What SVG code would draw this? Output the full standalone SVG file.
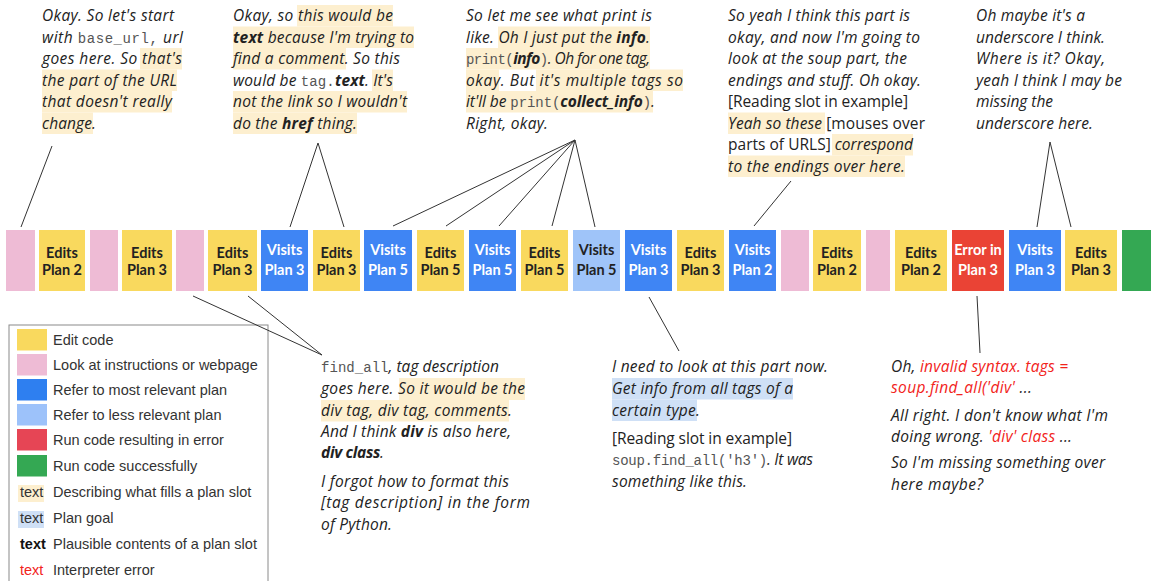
<svg xmlns="http://www.w3.org/2000/svg" width="1152" height="581" viewBox="0 0 1152 581">
<defs>
<style>
.q{font-family:"Open Sans","Noto Sans",sans-serif;font-size:15.5px;font-style:italic;fill:#222}
.q .n{font-style:normal}
.q .b{font-weight:700}
.q .m{font-family:"Liberation Mono","DejaVu Sans Mono",monospace;font-style:normal;font-size:14px;fill:#555}
.q .r{fill:#f2231b}
.hy{fill:#fdefcf}
.hb{fill:#cfe0f6}
.ed{fill:#f9d95e}
.lk{fill:#eebbd5}
.vs{fill:#3f85f4}
.vl{fill:#9fc4f9}
.er{fill:#ea4335}
.ok{fill:#34a853}
.lb{font-family:Lato,"Open Sans",sans-serif;font-weight:700;font-size:14.5px;text-anchor:middle}
.dk{fill:#222}
.wt{fill:#fff}
.cn line{stroke:#333;stroke-width:1}
.lg text{font-family:"Liberation Sans",Arial,sans-serif;font-size:14.5px;fill:#333}
</style>
</defs>
<rect width="1152" height="581" fill="#fff"/>

<!-- legend -->
<g id="legend" class="lg">
<rect x="9" y="325" width="259" height="270" fill="none" stroke="#8a8a8a"/>
<rect x="17" y="329" width="30" height="21.5" fill="#f9d95e"/>
<rect x="17" y="354" width="30" height="21.5" fill="#eebbd5"/>
<rect x="17" y="379" width="30" height="21.5" fill="#2e7ff0"/>
<rect x="17" y="404" width="30" height="21.5" fill="#9dc2fa"/>
<rect x="17" y="429" width="30" height="21.5" fill="#e64555"/>
<rect x="17" y="455" width="30" height="21.5" fill="#34a853"/>
<rect x="18" y="485" width="26" height="17" fill="#fdefcf"/>
<rect x="18" y="511" width="26" height="17" fill="#cfe0f6"/>
<text x="20" y="497">text</text>
<text x="20" y="523">text</text>
<text x="20" y="549" font-weight="700" style="fill:#111">text</text>
<text x="20" y="575" style="fill:#f2231b">text</text>
<text x="53" y="345">Edit code</text>
<text x="53" y="370">Look at instructions or webpage</text>
<text x="53" y="395">Refer to most relevant plan</text>
<text x="53" y="420">Refer to less relevant plan</text>
<text x="53" y="445">Run code resulting in error</text>
<text x="53" y="471">Run code successfully</text>
<text x="53" y="497">Describing what fills a plan slot</text>
<text x="53" y="523">Plan goal</text>
<text x="53" y="549">Plausible contents of a plan slot</text>
<text x="53" y="575">Interpreter error</text>
</g>

<!-- connectors -->
<g id="connectors" class="cn">
<line x1="52" y1="146" x2="21" y2="227"/>
<line x1="318" y1="143" x2="290" y2="227"/>
<line x1="318" y1="143" x2="344" y2="227"/>
<line x1="575" y1="140" x2="393" y2="226"/>
<line x1="575" y1="140" x2="446" y2="226"/>
<line x1="575" y1="140" x2="499" y2="226"/>
<line x1="575" y1="140" x2="552" y2="226"/>
<line x1="575" y1="140" x2="595" y2="227"/>
<line x1="791" y1="181" x2="754" y2="226"/>
<line x1="1050" y1="142" x2="1037" y2="227"/>
<line x1="1050" y1="142" x2="1071" y2="227"/>
<line x1="193" y1="296" x2="322" y2="355"/>
<line x1="248" y1="296" x2="322" y2="355"/>
<line x1="649" y1="297" x2="679" y2="351"/>
<line x1="977" y1="296" x2="980" y2="353"/>
</g>

<!-- timeline of activities -->
<g id="s1"><rect class="lk" x="6" y="230" width="29" height="61"/></g>
<g id="s2"><rect class="ed" x="39" y="230" width="46" height="61"/><text class="lb dk" x="62" y="258">Edits</text><text class="lb dk" x="62" y="275">Plan 2</text></g>
<g id="s3"><rect class="lk" x="90" y="230" width="28" height="61"/></g>
<g id="s4"><rect class="ed" x="122" y="230" width="50" height="61"/><text class="lb dk" x="147" y="258">Edits</text><text class="lb dk" x="147" y="275">Plan 3</text></g>
<g id="s5"><rect class="lk" x="176" y="230" width="28" height="61"/></g>
<g id="s6"><rect class="ed" x="208" y="230" width="49" height="61"/><text class="lb dk" x="232.5" y="258">Edits</text><text class="lb dk" x="232.5" y="275">Plan 3</text></g>
<g id="s7"><rect class="vs" x="261" y="230" width="47" height="61"/><text class="lb wt" x="284.5" y="255">Visits</text><text class="lb wt" x="284.5" y="275">Plan 3</text></g>
<g id="s8"><rect class="ed" x="313" y="230" width="47" height="61"/><text class="lb dk" x="336.5" y="258">Edits</text><text class="lb dk" x="336.5" y="275">Plan 3</text></g>
<g id="s9"><rect class="vs" x="364" y="230" width="48" height="61"/><text class="lb wt" x="388" y="255">Visits</text><text class="lb wt" x="388" y="275">Plan 5</text></g>
<g id="s10"><rect class="ed" x="417" y="230" width="47" height="61"/><text class="lb dk" x="440.5" y="258">Edits</text><text class="lb dk" x="440.5" y="275">Plan 5</text></g>
<g id="s11"><rect class="vs" x="469" y="230" width="47" height="61"/><text class="lb wt" x="492.5" y="255">Visits</text><text class="lb wt" x="492.5" y="275">Plan 5</text></g>
<g id="s12"><rect class="ed" x="521" y="230" width="47" height="61"/><text class="lb dk" x="544.5" y="258">Edits</text><text class="lb dk" x="544.5" y="275">Plan 5</text></g>
<g id="s13"><rect class="vl" x="573" y="230" width="47" height="61"/><text class="lb dk" x="596.5" y="255">Visits</text><text class="lb dk" x="596.5" y="275">Plan 5</text></g>
<g id="s14"><rect class="vs" x="625" y="230" width="47" height="61"/><text class="lb wt" x="648.5" y="255">Visits</text><text class="lb wt" x="648.5" y="275">Plan 3</text></g>
<g id="s15"><rect class="ed" x="677" y="230" width="47" height="61"/><text class="lb dk" x="700.5" y="258">Edits</text><text class="lb dk" x="700.5" y="275">Plan 3</text></g>
<g id="s16"><rect class="vs" x="729" y="230" width="47" height="61"/><text class="lb wt" x="752.5" y="255">Visits</text><text class="lb wt" x="752.5" y="275">Plan 2</text></g>
<g id="s17"><rect class="lk" x="781" y="230" width="28" height="61"/></g>
<g id="s18"><rect class="ed" x="813" y="230" width="48" height="61"/><text class="lb dk" x="837" y="258">Edits</text><text class="lb dk" x="837" y="275">Plan 2</text></g>
<g id="s19"><rect class="lk" x="866" y="230" width="24" height="61"/></g>
<g id="s20"><rect class="ed" x="895" y="230" width="52" height="61"/><text class="lb dk" x="921" y="258">Edits</text><text class="lb dk" x="921" y="275">Plan 2</text></g>
<g id="s21"><rect class="er" x="952" y="230" width="52" height="61"/><text class="lb wt" x="978" y="255">Error in</text><text class="lb wt" x="978" y="275">Plan 3</text></g>
<g id="s22"><rect class="vs" x="1009" y="230" width="52" height="61"/><text class="lb wt" x="1035" y="255">Visits</text><text class="lb wt" x="1035" y="275">Plan 3</text></g>
<g id="s23"><rect class="ed" x="1065" y="230" width="52" height="61"/><text class="lb dk" x="1091" y="258">Edits</text><text class="lb dk" x="1091" y="275">Plan 3</text></g>
<g id="s24"><rect class="ok" x="1122" y="230" width="29" height="61"/></g>

<!-- think-aloud quotes above the timeline -->
<g id="q1" class="q">
<rect class="hy" x="140" y="48" width="42" height="21.5"/>
<rect class="hy" x="42" y="69.5" width="135" height="21.5"/>
<rect class="hy" x="42" y="91" width="130" height="21.5"/>
<rect class="hy" x="42" y="112.5" width="51" height="21.5"/>
<text x="42" y="21" textLength="132" lengthAdjust="spacing">Okay. So let's start</text>
<text x="42" y="42.5" textLength="141" lengthAdjust="spacing">with <tspan class="m">base_url,</tspan> url</text>
<text x="42" y="64" textLength="140" lengthAdjust="spacing">goes here. So that's</text>
<text x="42" y="85.5" textLength="135" lengthAdjust="spacing">the part of the URL</text>
<text x="42" y="107" textLength="130" lengthAdjust="spacing">that doesn't really</text>
<text x="42" y="128.5" textLength="54" lengthAdjust="spacing">change.</text>
</g>

<g id="q2" class="q">
<rect class="hy" x="297" y="5" width="96" height="21.5"/>
<rect class="hy" x="233" y="26.5" width="181" height="21.5"/>
<rect class="hy" x="233" y="48" width="113" height="21.5"/>
<rect class="hy" x="372" y="69.5" width="21" height="21.5"/>
<rect class="hy" x="233" y="91" width="174" height="21.5"/>
<rect class="hy" x="233" y="112.5" width="124" height="21.5"/>
<text x="233" y="21" textLength="160" lengthAdjust="spacing">Okay, so this would be</text>
<text x="233" y="42.5" textLength="181" lengthAdjust="spacing"><tspan class="b">text</tspan> because I'm trying to</text>
<text x="233" y="64" textLength="167" lengthAdjust="spacing">find a comment. So this</text>
<text x="233" y="85.5" textLength="160" lengthAdjust="spacing">would be <tspan class="m">tag.</tspan><tspan class="b">text</tspan>. It's</text>
<text x="233" y="107" textLength="174" lengthAdjust="spacing">not the link so I wouldn't</text>
<text x="233" y="128.5" textLength="124" lengthAdjust="spacing">do the <tspan class="b">href</tspan> thing.</text>
</g>

<g id="q3" class="q">
<rect class="hy" x="498" y="26.5" width="152" height="21.5"/>
<rect class="hy" x="466" y="48" width="184" height="21.5"/>
<rect class="hy" x="466" y="69.5" width="33" height="21.5"/>
<rect class="hy" x="536" y="69.5" width="147" height="21.5"/>
<rect class="hy" x="466" y="91" width="187" height="21.5"/>
<text x="466" y="21" textLength="186" lengthAdjust="spacing">So let me see what print is</text>
<text x="466" y="42.5" textLength="184" lengthAdjust="spacing">like. Oh I just put the <tspan class="b">info</tspan>.</text>
<text x="466" y="64" textLength="184" lengthAdjust="spacing"><tspan class="m">print(</tspan><tspan class="b">info</tspan><tspan class="m">)</tspan>. Oh for one tag,</text>
<text x="466" y="85.5" textLength="217" lengthAdjust="spacing">okay. But it's multiple tags so</text>
<text x="466" y="107" textLength="189" lengthAdjust="spacing">it'll be <tspan class="m">print(</tspan><tspan class="b">collect_info</tspan><tspan class="m">)</tspan>.</text>
<text x="466" y="128.5" textLength="82" lengthAdjust="spacing">Right, okay.</text>
</g>

<g id="q4" class="q">
<rect class="hy" x="728" y="112.5" width="97" height="21.5"/>
<rect class="hy" x="832" y="134" width="81" height="21.5"/>
<rect class="hy" x="728" y="155.5" width="177" height="21.5"/>
<text x="728" y="21" textLength="182" lengthAdjust="spacing">So yeah I think this part is</text>
<text x="728" y="42.5" textLength="192" lengthAdjust="spacing">okay, and now I'm going to</text>
<text x="728" y="64" textLength="179" lengthAdjust="spacing">look at the soup part, the</text>
<text x="728" y="85.5" textLength="193" lengthAdjust="spacing">endings and stuff. Oh okay.</text>
<text x="728" y="107" textLength="180" lengthAdjust="spacing"><tspan class="n">[Reading slot in example]</tspan></text>
<text x="728" y="128.5" textLength="197" lengthAdjust="spacing">Yeah so these <tspan class="n">[mouses over</tspan></text>
<text x="728" y="150" textLength="185" lengthAdjust="spacing"><tspan class="n">parts of URLS]</tspan> correspond</text>
<text x="728" y="171.5" textLength="177" lengthAdjust="spacing">to the endings over here.</text>
</g>

<g id="q5" class="q">
<text x="976" y="21" textLength="109" lengthAdjust="spacing">Oh maybe it's a</text>
<text x="976" y="42.5" textLength="129" lengthAdjust="spacing">underscore I think.</text>
<text x="976" y="64" textLength="129" lengthAdjust="spacing">Where is it? Okay,</text>
<text x="976" y="85.5" textLength="146" lengthAdjust="spacing">yeah I think I may be</text>
<text x="976" y="107" textLength="77" lengthAdjust="spacing">missing the</text>
<text x="976" y="128.5" textLength="117" lengthAdjust="spacing">underscore here.</text>
</g>

<!-- think-aloud quotes below the timeline -->
<g id="q6" class="q">
<rect class="hy" x="399" y="378" width="126" height="22"/>
<rect class="hy" x="321" y="400" width="188" height="21.5"/>
<text x="321" y="372" textLength="178" lengthAdjust="spacing"><tspan class="m">find_all</tspan>, tag description</text>
<text x="321" y="394" textLength="204" lengthAdjust="spacing">goes here. So it would be the</text>
<text x="321" y="416" textLength="191" lengthAdjust="spacing">div tag, div tag, comments.</text>
<text x="321" y="437" textLength="190" lengthAdjust="spacing">And I think <tspan class="b">div</tspan> is also here,</text>
<text x="321" y="458" textLength="63" lengthAdjust="spacing"><tspan class="b">div class</tspan>.</text>
<text x="321" y="487" textLength="188" lengthAdjust="spacing">I forgot how to format this</text>
<text x="321" y="508" textLength="209" lengthAdjust="spacing">[tag description] in the form</text>
<text x="321" y="529.5" textLength="71" lengthAdjust="spacing">of Python.</text>
</g>

<g id="q7" class="q">
<rect class="hb" x="612" y="378" width="181" height="21.5"/>
<rect class="hb" x="612" y="399.5" width="85" height="21.5"/>
<text x="612" y="372" textLength="216" lengthAdjust="spacing">I need to look at this part now.</text>
<text x="612" y="394" textLength="181" lengthAdjust="spacing">Get info from all tags of a</text>
<text x="612" y="415.5" textLength="88" lengthAdjust="spacing">certain type.</text>
<text x="612" y="443.5" textLength="180" lengthAdjust="spacing"><tspan class="n">[Reading slot in example]</tspan></text>
<text x="612" y="465" textLength="201" lengthAdjust="spacing"><tspan class="m">soup.find_all('h3')</tspan>. It was</text>
<text x="612" y="486.5" textLength="135" lengthAdjust="spacing">something like this.</text>
</g>

<g id="q8" class="q">
<text x="891" y="372" textLength="177" lengthAdjust="spacing">Oh, <tspan class="r">invalid syntax. tags =</tspan></text>
<text x="891" y="393" textLength="141" lengthAdjust="spacing"><tspan class="r">soup.find_all('div'</tspan> ...</text>
<text x="891" y="420.5" textLength="217" lengthAdjust="spacing">All right. I don't know what I'm</text>
<text x="891" y="441.5" textLength="181" lengthAdjust="spacing">doing wrong. <tspan class="r">'div' class</tspan> ...</text>
<text x="891" y="468" textLength="214" lengthAdjust="spacing">So I'm missing something over</text>
<text x="891" y="489.5" textLength="92" lengthAdjust="spacing">here maybe?</text>
</g>
</svg>
